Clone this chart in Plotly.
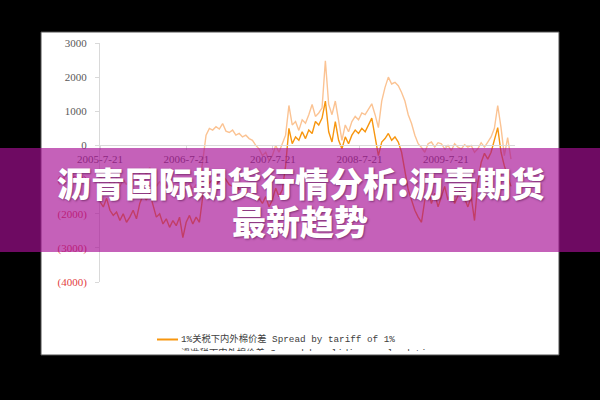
import plotly.graph_objects as go
import pandas as pd

# ---- data -------------------------------------------------------------
dates = pd.date_range("2005-07-21", periods=125, freq="14D")

spread_tariff_1pct = [
    -1650, -1800, -1550, -1900, -2050, -1950, -2200, -2000, -2250, -2100,
    -1900, -2150, -1700, -1450, -1600, -1400, -1750, -2100, -2000, -2300,
    -2150, -2400, -2200, -2350, -2100, -2700, -2250, -2050, -2300, -2100,
    -2250, -1500, -930, -1100, -1000, -1150, -1050, -900, -1000, -1150,
    -1200, -1100, -1300, -1250, -1350, -1450, -1400, -1600, -1550, -1700,
    -1500, -1800, -1600, -1250, -1500, -1300, -600, 500, 50, 250,
    150, 400, 200, 450, 350, 700, 600, 800, 1300, 400,
    100, 700, 150, -100, 250, 50, 300, 450, 350, 500,
    400, 600, 800, 250, -300, 100, 200, 350, 150, 250,
    100, -200, -800, -1300, -1600, -1900, -2100, -2250, -1600, -1300,
    -1700, -1400, -1800, -1500, -1200, -1600, -1350, -1700, -1450, -1250,
    -1550, -1800, -1500, -2200, -1100, -500, -230, -400, -200, 150,
    520, -200, -600, -900, -1200,
]

spread_sliding_scale = [
    -900, -1050, -800, -1100, -1150, -950, -1200, -1000, -1150, -900,
    -1050, -1100, -800, -700, -850, -650, -900, -1200, -1050, -1300,
    -1150, -1350, -1200, -1300, -1150, -1500, -1250, -1100, -1300, -1150,
    -1200, -400, 300, 500, 450, 550, 480, 640, 420, 380,
    450, 300, 350, 250, 300, 200, 150, 0, -100, -300,
    -200, -450, -300, 0, -200, 50, 300, 1170, 600, 700,
    440, 750, 650, 900, 1200, 850, 950, 1100, 2480, 1200,
    900, 1300, 700, 150, 600, 400, 700, 850, 750, 950,
    900, 1050, 1220, 900, 520, 1300, 1700, 2000, 1800, 1850,
    1750, 1550, 1300, 900, 640, 300, 50, -60, -200, 50,
    100, -50, 80, 50, -100, 0, -150, 50, -50, -100,
    20, -50, 0, -200, -100, 80, -50, 100, 250, 500,
    1170, 520, -300, 230, -400,
]

x_tick_vals = ["2005-07-21", "2006-07-21", "2007-07-21", "2008-07-21", "2009-07-21"]
x_tick_text = ["2005-7-21", "2006-7-21", "2007-7-21", "2008-7-21", "2009-7-21"]
y_tick_vals = [-4000, -3000, -2000, -1000, 0, 1000, 2000, 3000]
y_tick_text = ["(4000)", "(3000)", "(2000)", "(1000)", "0", "1000", "2000", "3000"]

legend_names = [
    "1%关税下内外棉价差 Spread by tariff of 1%",
    "滑准税下内外棉价差 Spread by sliding scale duties",
]
title_lines = ["沥青国际期货行情分析:沥青期货", "最新趋势"]

# ---- styles -------------------------------------------------------------
C_DARK = "#F7960F"
C_LIGHT = "#FBC393"
NEG_RED = "#E2403F"
W, H = 600, 400


def py(p):  # pixel y -> paper y
    return 1 - p / H


fig = go.Figure()

fig.add_trace(go.Scatter(x=dates, y=spread_sliding_scale, mode="lines",
                         line=dict(color=C_LIGHT, width=1.4), showlegend=False,
                         hoverinfo="skip"))
fig.add_trace(go.Scatter(x=dates, y=spread_tariff_1pct, mode="lines",
                         line=dict(color=C_DARK, width=1.4), showlegend=False,
                         hoverinfo="skip"))

# legend drawn in a small clipped subplot (second row is cut by the panel edge)
leg_colors = [C_DARK, C_LIGHT]
leg_rows = [339.5, 353.5]
for name, col, yy in zip(legend_names, leg_colors, leg_rows):
    fig.add_trace(go.Scatter(x=[157, 178], y=[yy, yy], mode="lines",
                             line=dict(color=col, width=2), xaxis="x2", yaxis="y2",
                             showlegend=False, hoverinfo="skip"))
    fig.add_trace(go.Scatter(x=[181], y=[yy], mode="text", text=[name],
                             textposition="middle right", cliponaxis=True,
                             textfont=dict(family="Liberation Mono, Noto Sans CJK SC",
                                           size=9.3, color="#404040"),
                             xaxis="x2", yaxis="y2", showlegend=False,
                             hoverinfo="skip"))

ytext = [f'<span style="color:{NEG_RED}">{t}</span>' if v < 0 else t
         for v, t in zip(y_tick_vals, y_tick_text)]

fig.update_layout(
    width=W, height=H,
    margin=dict(l=0, r=0, t=0, b=0, pad=0, autoexpand=False),
    paper_bgcolor="black",
    plot_bgcolor="rgba(0,0,0,0)",
    xaxis=dict(
        domain=[100 / W, 515 / W],
        range=["2005-07-21", "2010-05-09"],
        anchor="free", position=py(145),
        tickvals=x_tick_vals, ticktext=x_tick_text,
        tickfont=dict(family="Liberation Serif", size=11, color="#595959"),
        showline=True, linecolor="#D9D9D9", linewidth=1,
        ticks="outside", ticklen=4, tickcolor="#D9D9D9",
        showgrid=False, zeroline=False, automargin=False,
    ),
    yaxis=dict(
        domain=[py(282), py(43)],
        range=[-4000, 3000],
        tickvals=y_tick_vals, ticktext=ytext,
        tickfont=dict(family="Liberation Serif", size=11, color="#595959"),
        showline=True, linecolor="#D9D9D9", linewidth=1,
        ticks="outside", ticklen=4, tickcolor="#D9D9D9",
        ticklabelstandoff=6,
        showgrid=False, zeroline=False, automargin=False,
    ),
    xaxis2=dict(domain=[0, 1], range=[0, W], visible=False, anchor="y2",
                automargin=False),
    yaxis2=dict(domain=[py(351), py(328)], range=[351, 328], visible=False,
                anchor="x2", automargin=False),
    shapes=[
        dict(type="rect", xref="paper", yref="paper", x0=41 / W, x1=559 / W,
             y0=py(355), y1=py(32), fillcolor="white",
             line=dict(color="#505050", width=1), layer="below"),
        dict(type="rect", xref="paper", yref="paper", x0=0, x1=1,
             y0=py(252), y1=py(148), fillcolor="rgba(167,15,148,0.66)",
             line=dict(width=0), layer="above"),
    ],
    annotations=[
        dict(text=title_lines[0], xref="paper", yref="paper", x=301 / W, y=py(182),
             xanchor="center", yanchor="middle", showarrow=False,
             font=dict(family="Noto Sans CJK SC", size=34, color="white",
                       weight=900, shadow="1px 1px 2px rgba(60,0,50,0.5)")),
        dict(text=title_lines[1], xref="paper", yref="paper", x=300 / W, y=py(220),
             xanchor="center", yanchor="middle", showarrow=False,
             font=dict(family="Noto Sans CJK SC", size=34, color="white",
                       weight=900, shadow="1px 1px 2px rgba(60,0,50,0.5)")),
    ],
)

fig.write_html(
    "out.html",
    config={"displayModeBar": False},
    post_script=("document.documentElement.style.margin='0';"
                 "document.body.style.margin='0';"
                 "document.body.style.background='black';"
                 "document.documentElement.style.background='black';"
                 "document.body.style.overflow='hidden';"),
)
